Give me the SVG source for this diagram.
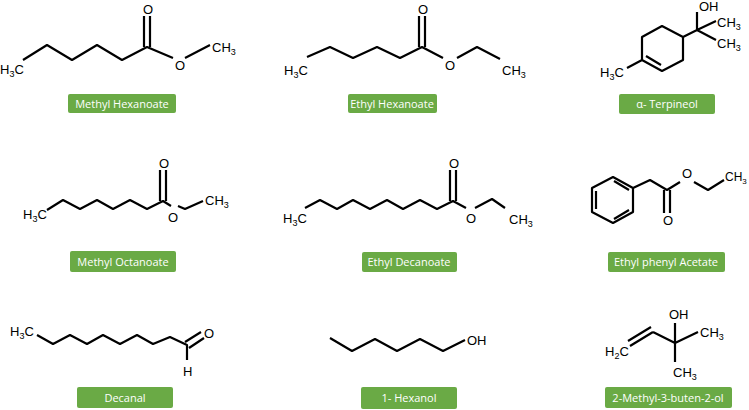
<svg xmlns="http://www.w3.org/2000/svg" width="749" height="410" viewBox="0 0 749 410">
<style>
.b{fill:none;stroke:#000;stroke-width:2.2;stroke-linejoin:round;stroke-linecap:butt}
.a{font-family:"Liberation Sans",Arial,sans-serif;font-size:13px;fill:#000}
.s{font-size:9px}
.box{fill:#6aaa45}
.l{font-family:"Open Sans","Liberation Sans",sans-serif;font-size:11px;fill:#fff;text-anchor:middle}
</style>
<rect width="749" height="410" fill="#fff"/>
<g id="methyl-hexanoate">
<path class="b" d="M23,60 L47,45 L72,60 L97,45 L122,60 L147,47 L173,58 M185,58 L210,45 M144,47 V16 M150,47 V16"/>
<text class="a" x="143" y="14">O</text>
<text class="a" x="175" y="70">O</text>
<text class="a" x="0" y="74">H<tspan class="s" dy="3">3</tspan><tspan dy="-3">C</tspan></text>
<text class="a" x="212" y="52">CH<tspan class="s" dy="3">3</tspan></text>
<rect class="box" x="68" y="94" width="108" height="19" rx="2"/>
<text class="l" x="122" y="108">Methyl Hexanoate</text>
</g>
<g id="ethyl-hexanoate">
<path class="b" d="M307,57 L330,47 L353,58 L377,47 L400,58 L422,47 L443,58 M457,58 L477,47 L500,59 M419,47 V16 M425,47 V16"/>
<text class="a" x="418" y="14">O</text>
<text class="a" x="445" y="70">O</text>
<text class="a" x="284" y="75">H<tspan class="s" dy="3">3</tspan><tspan dy="-3">C</tspan></text>
<text class="a" x="502" y="75">CH<tspan class="s" dy="3">3</tspan></text>
<rect class="box" x="348" y="94" width="89" height="19" rx="2"/>
<text class="l" x="392" y="108">Ethyl Hexanoate</text>
</g>
<g id="terpineol">
<path class="b" d="M642,37 L662,26 L683,37 L683,60 L662,71 L642,60 Z M646,56 L661,65 M642,60 L627,68 M683,37 L697,30 L697,12 M697,30 L716,21 M697,30 L716,40"/>
<text class="a" x="699" y="11">OH</text>
<text class="a" x="717" y="27">CH<tspan class="s" dy="3">3</tspan></text>
<text class="a" x="717" y="48">CH<tspan class="s" dy="3">3</tspan></text>
<text class="a" x="600" y="77">H<tspan class="s" dy="3">3</tspan><tspan dy="-3">C</tspan></text>
<rect class="box" x="619" y="94" width="96" height="20" rx="2"/>
<text class="l" x="667" y="108">α- Terpineol</text>
</g>
<g id="methyl-octanoate">
<path class="b" d="M47,210 L63,200 L80,209 L97,200 L113,209 L130,200 L147,209 L163,201 L171,206 M178,206 L185,209 L203,201 M160,201 V170 M166,201 V170"/>
<text class="a" x="159" y="168">O</text>
<text class="a" x="168" y="222">O</text>
<text class="a" x="23" y="219">H<tspan class="s" dy="3">3</tspan><tspan dy="-3">C</tspan></text>
<text class="a" x="205" y="205">CH<tspan class="s" dy="3">3</tspan></text>
<rect class="box" x="70" y="251" width="106" height="21" rx="2"/>
<text class="l" x="123" y="266">Methyl Octanoate</text>
</g>
<g id="ethyl-decanoate">
<path class="b" d="M305,208 L320,200 L337,209 L353,200 L370,209 L387,200 L403,209 L420,200 L437,209 L453,201 L466,208 M475,208 L492,199 L505,208 M450,201 V170 M456,201 V170"/>
<text class="a" x="449" y="168">O</text>
<text class="a" x="466" y="223">O</text>
<text class="a" x="283" y="223">H<tspan class="s" dy="3">3</tspan><tspan dy="-3">C</tspan></text>
<text class="a" x="509" y="224">CH<tspan class="s" dy="3">3</tspan></text>
<rect class="box" x="362" y="252" width="95" height="20" rx="2"/>
<text class="l" x="409" y="266">Ethyl Decanoate</text>
</g>
<g id="ethyl-phenyl-acetate">
<path class="b" d="M613,177 L633,188 L633,212 L613,223 L592,212 L592,188 Z M596,191 V209 M614,181 L629,190 M629,210 L614,219 M633,188 L650,180 L667,190 L680,182 M694,182 L708,190 L724,180"/>
<path class="b" d="M664,190 V213 M670,190 V213"/>
<text class="a" x="663" y="225">O</text>
<text class="a" x="682" y="178">O</text>
<text class="a" x="725" y="181" style="font-size:12px">CH<tspan class="s" dy="3" style="font-size:8px">3</tspan></text>
<rect class="box" x="608" y="252" width="117" height="20" rx="2"/>
<text class="l" x="666" y="266">Ethyl phenyl Acetate</text>
</g>
<g id="decanal">
<path class="b" d="M37,335 L53,344 L70,335 L87,344 L103,335 L120,344 L137,335 L153,344 L170,337 L187,345 L187,360 M185,342 L201,332 M189,348 L204,338"/>
<text class="a" x="204" y="338">O</text>
<text class="a" x="183" y="376">H</text>
<text class="a" x="10" y="336">H<tspan class="s" dy="3">3</tspan><tspan dy="-3">C</tspan></text>
<rect class="box" x="77" y="387" width="96" height="21" rx="2"/>
<text class="l" x="125" y="402">Decanal</text>
</g>
<g id="hexanol">
<path class="b" d="M330,338 L352,351 L375,339 L397,351 L420,339 L443,351 L465,340"/>
<text class="a" x="467" y="345">OH</text>
<rect class="box" x="361" y="387" width="96" height="22" rx="2"/>
<text class="l" x="409" y="402">1- Hexanol</text>
</g>
<g id="methylbutenol">
<path class="b" d="M630,346 L653,332 M628,341 L651,327 M653,332 L675,343 L675,323 M675,343 L698,332 M675,343 L675,362"/>
<text class="a" x="669" y="319">OH</text>
<text class="a" x="700" y="337">CH<tspan class="s" dy="3">3</tspan></text>
<text class="a" x="673" y="377">CH<tspan class="s" dy="3">3</tspan></text>
<text class="a" x="605" y="356">H<tspan class="s" dy="3">2</tspan><tspan dy="-3">C</tspan></text>
<rect class="box" x="605" y="387" width="127" height="21" rx="2"/>
<text class="l" x="668" y="402">2-Methyl-3-buten-2-ol</text>
</g>
<g id="connectors"/>
</svg>
